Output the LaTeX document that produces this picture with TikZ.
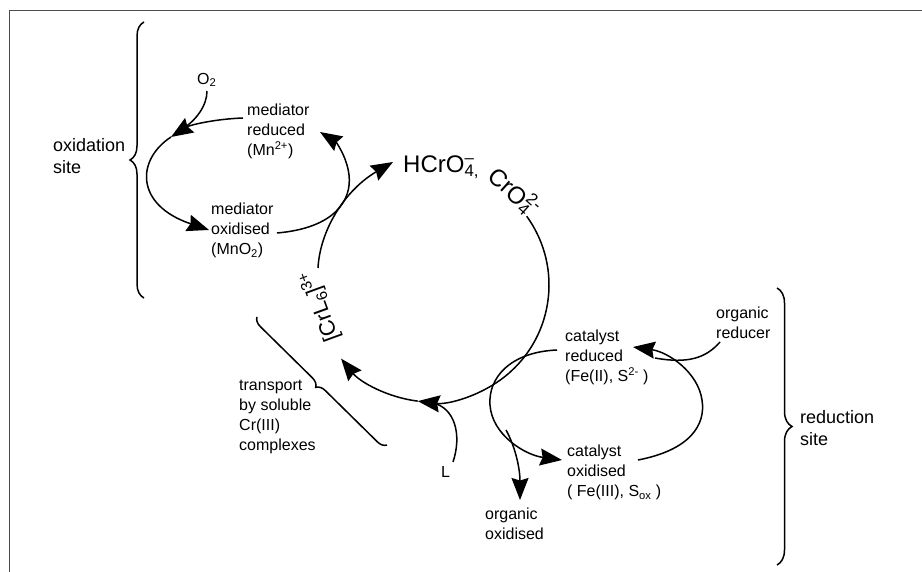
\documentclass[tikz,border=0pt]{standalone}
\usepackage{fontspec}
\setmainfont{Liberation Sans}
\usetikzlibrary{arrows.meta,decorations.pathreplacing}
\newcommand\subsupx[2]{\makebox[0pt][l]{\textsuperscript{#2}}\textsubscript{#1}}
\begin{document}
\begin{tikzpicture}[x=1pt,y=-1pt,
  lbl/.style={font=\fontsize{16}{20}\selectfont, align=left, anchor=north west, inner sep=0pt},
  site/.style={font=\fontsize{18}{22}\selectfont, align=left, anchor=north west, inner sep=0pt},
  chem/.style={font=\fontsize{24}{28}\selectfont, inner sep=0pt},
  ln/.style={line width=1.5pt},
  arr/.style={ln, -{Stealth[length=22pt,width=17pt,inset=2.5pt]}},
  brc/.style={ln, decorate, decoration={brace, amplitude=#1}},
]
\useasboundingbox (0,0) rectangle (922,572);
\fill[white] (0,0) rectangle (922,572);
% frame
\draw[line width=1.3pt, black!70] (9.5,572) -- (9.5,10.5) -- (922,10.5);

% texts
\node[site] (oxs) at (53,138) {oxidation\\site};
\node[lbl] (o2) at (197,73) {O\textsubscript{2}};
\node[lbl] (mred) at (247,104) {mediator\\reduced\\(Mn\textsuperscript{2+})};
\node[lbl] (mox) at (211,203) {mediator\\oxidised\\(MnO\textsubscript{2})};
\node[lbl] (trans) at (239,380) {transport\\by soluble\\Cr(III)\\complexes};
\node[lbl] (lig) at (441,466) {L};
\node[lbl] (cred) at (565,330) {catalyst\\reduced\\(Fe(II), S\textsuperscript{2-} )};
\node[lbl] (orgr) at (716,307) {organic\\reducer};
\node[lbl] (cox) at (567,445) {catalyst\\oxidised\\( Fe(III), S\textsubscript{ox} )};
\node[lbl] (orgo) at (485,508) {organic\\oxidised};
\node[site] (reds) at (800,410) {reduction\\site};
\node[chem, anchor=base west] (hcro) at (403,173) {HCrO\subsupx{4,}{–}};
\node[chem, anchor=base west, rotate=-42] (cro) at (486,178) {CrO\subsupx{4}{2-}};
\node[chem, font=\fontsize{22}{26}\selectfont, rotate=110] (crl) at (320,306) {[CrL\textsubscript{6}]\textsuperscript{3+}};

% named points
\coordinate (cc) at (432,285);
\coordinate (o2e) at (207,91);
\coordinate (o2m) at (181,130);
\coordinate (mreds) at (243,118);
\coordinate (tipA) at (171,137);
\coordinate (tipB) at (209,230);
\coordinate (moxs) at (277,233);
\coordinate (tipC) at (320,132);
\coordinate (crls) at (318,268);
\coordinate (tipD) at (393,162);
\coordinate (ls) at (453,462);
\coordinate (lm) at (433,403);
\coordinate (creds) at (557,350);
\coordinate (tipE) at (562,460);
\coordinate (brs) at (506,430);
\coordinate (tipF) at (520,500);
\coordinate (coxs) at (638,460);
\coordinate (tipG) at (633,347);
\coordinate (orgs) at (720,342);
\coordinate (orgm) at (655,358);

% oxidation cycle
\draw[ln] (o2e) .. controls (207,105) and (197,120) .. (o2m);
\draw[arr] (mreds) .. controls (215,119) and (190,125) .. (tipA);
\draw[arr] (tipA) .. controls (136,160) and (135,205) .. (tipB);
\draw[arr] (moxs) .. controls (335,228) and (352,200) .. (349,175) .. controls (347,157) and (336,142) .. (tipC);
\draw[arr] (crls) .. controls (320,230) and (345,190) .. (tipD);

% main chromium cycle
\draw[arr] (cc) ++(-36:117) arc[start angle=-36, end angle=97, radius=117];
\draw[arr] (cc) ++(97:117) arc[start angle=97, end angle=141, radius=117];
\draw[ln] (ls) .. controls (462,435) and (455,408) .. (lm);

% reduction cycle
\draw[arr] (creds) .. controls (510,352) and (488,378) .. (490,405) .. controls (492,435) and (525,455) .. (tipE);
\draw[arr] (brs) .. controls (516,448) and (520,470) .. (tipF);
\draw[arr] (coxs) .. controls (690,450) and (706,425) .. (702,400) .. controls (698,372) and (668,352) .. (tipG);
\draw[ln] (orgs) .. controls (706,358) and (688,364) .. (orgm);

% braces
\coordinate (b1a) at (144,298); \coordinate (b1b) at (144,22);
\coordinate (b2a) at (777,288); \coordinate (b2b) at (777,565);
\coordinate (b3a) at (387,445); \coordinate (b3b) at (257,317);
\draw[brc=14pt] (b1a) -- (b1b);
\draw[brc=15pt] (b2a) -- (b2b);
\draw[brc=9pt] (b3a) -- (b3b);
\end{tikzpicture}
\end{document}
